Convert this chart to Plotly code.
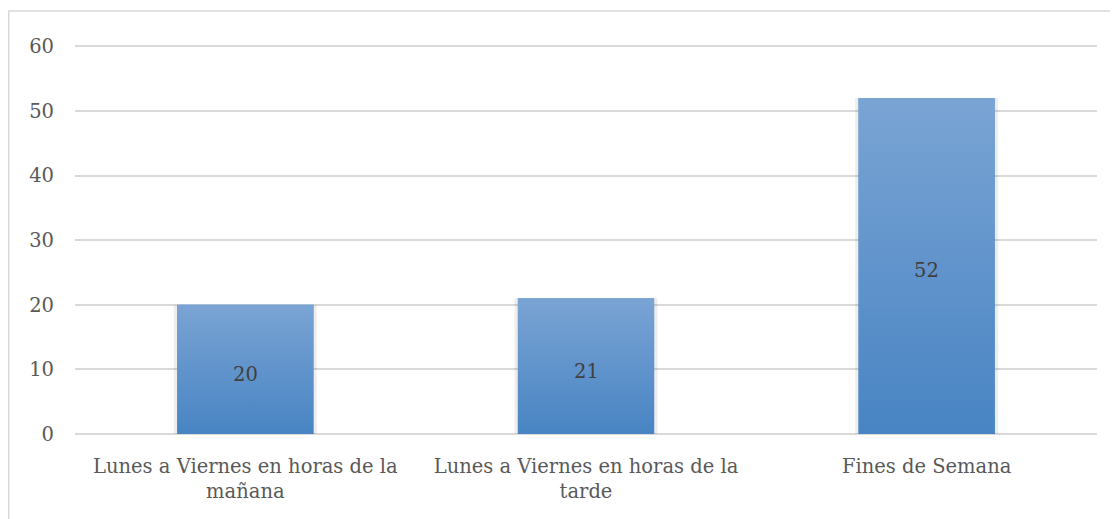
import plotly.graph_objects as go

# ── Data ────────────────────────────────────────────────────────────────────
categories = [
    "Lunes a Viernes en horas de la<br>mañana",
    "Lunes a Viernes en horas de la<br>tarde",
    "Fines de Semana",
]
values = [20, 21, 52]
y_ticks = [0, 10, 20, 30, 40, 50, 60]

# ── Style ───────────────────────────────────────────────────────────────────
BAR_TOP = "#7aa4d4"
BAR_BOT = "#4884c3"
GRID = "#d9d9d9"
TEXT = "#595959"
SERIF = "DejaVu Serif, serif"
FONT = dict(family=SERIF, color=TEXT, size=19.5)
BAR_W = 0.4

pos = list(range(len(categories)))

fig = go.Figure()

# soft shadow behind the bars
fig.add_trace(go.Bar(
    x=pos, y=values, width=BAR_W + 0.02,
    marker=dict(color="rgba(0,0,0,0.07)", line=dict(width=0)),
    hoverinfo="skip",
))
# base bars
fig.add_trace(go.Bar(
    x=pos, y=values, width=BAR_W,
    marker=dict(color="#5e95cc", line=dict(width=0)),
    hovertemplate="%{y}<extra></extra>",
))
fig.update_layout(barmode="overlay")

# vertical gradient over each bar
for i, v in zip(pos, values):
    x0, x1 = i - BAR_W / 2, i + BAR_W / 2
    fig.add_trace(go.Scatter(
        x=[x0, x1, x1, x0, x0], y=[0, 0, v, v, 0],
        mode="lines", line=dict(width=0),
        fill="toself",
        fillgradient=dict(type="vertical",
                          colorscale=[[0, BAR_BOT], [1, BAR_TOP]]),
        hoverinfo="skip",
    ))

# data labels, centred in each bar
for i, v in zip(pos, values):
    fig.add_annotation(
        x=i, y=v / 2, text=str(v), showarrow=False, yshift=-5,
        font=dict(family=SERIF, color="#404040", size=19.5),
    )

fig.update_yaxes(
    range=[0, 60.2], tickvals=y_ticks,
    showgrid=True, gridcolor=GRID, gridwidth=1.5,
    zeroline=True, zerolinecolor=GRID, zerolinewidth=1.5,
    ticks="", ticklabelstandoff=20, automargin=False,
)
fig.update_xaxes(
    range=[-0.5, 2.5], tickvals=pos, ticktext=categories,
    showgrid=False, zeroline=False, ticks="", showline=False,
    ticklabelstandoff=18, automargin=False,
)

# light outer frame of the chart area (top and left edges visible)
fig.add_shape(type="rect", xref="paper", yref="paper",
              x0=-0.0648, x1=1.2, y0=-0.3, y1=1.0875,
              line=dict(color="#d9d9d9", width=1.5), fillcolor="rgba(0,0,0,0)",
              layer="below")

# page body has an 8px margin, so the figure is sized to fit the window
fig.update_layout(
    width=1110, height=511,
    paper_bgcolor="white", plot_bgcolor="white",
    font=FONT,
    showlegend=False,
    margin=dict(l=67, r=21, t=37, b=85),
)

fig.write_html("out.html")
